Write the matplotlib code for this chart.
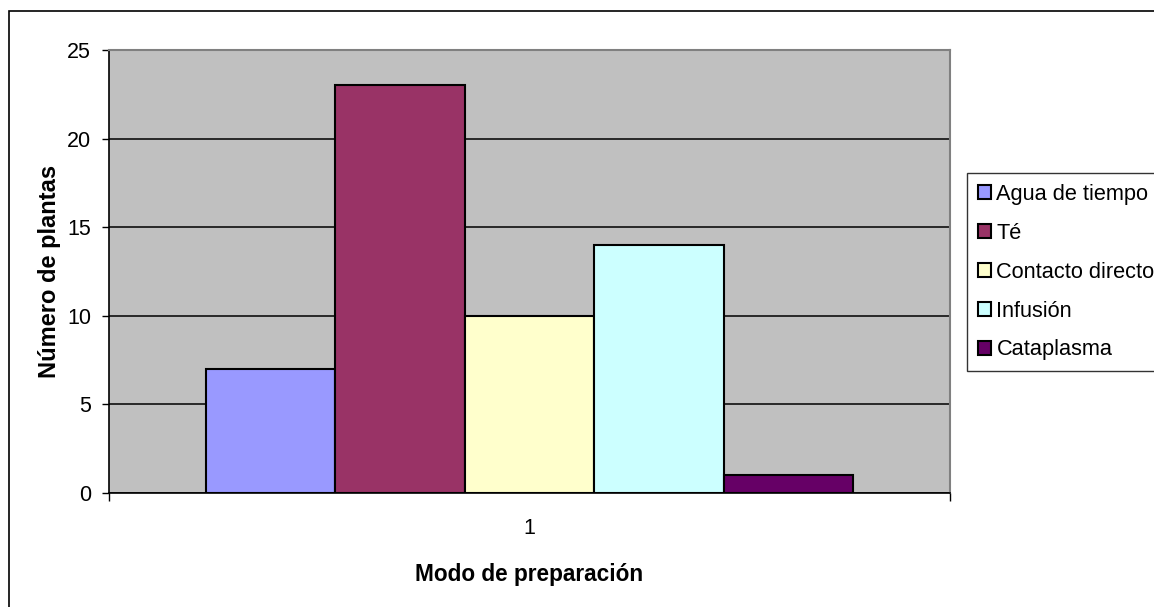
import matplotlib.pyplot as plt
from matplotlib.patches import Rectangle
import numpy as np

plt.rcParams['font.family'] = ['Liberation Sans', 'DejaVu Sans']

# data
modos = ['Agua de tiempo', 'Té', 'Contacto directo', 'Infusión', 'Cataplasma']
num_plantas = [7, 23, 10, 14, 1]
colores = ['#9999FF', '#993366', '#FFFFCC', '#CCFFFF', '#660066']
categoria = ['1']

W, H = 1154, 607
fig = plt.figure(figsize=(W / 100, H / 100), dpi=100)
ax = fig.add_axes([109 / W, (H - 493) / H, (950 - 109) / W, (493 - 50) / H])
ax.set_facecolor('#C0C0C0')

# excel style clustered bars, gap width 150%
n = len(modos)
w = 1.0 / (n + 1.5)
for i, (m, v, c) in enumerate(zip(modos, num_plantas, colores)):
    x = 1 + (i - (n - 1) / 2) * w
    ax.bar(x, v, width=w, color=c, edgecolor='black', linewidth=1.5,
           label=m, zorder=3)

ax.set_xlim(0.5, 1.5)
ax.set_ylim(0, 25)
ax.set_yticks(np.arange(0, 26, 5))
ax.yaxis.grid(True, color='black', linewidth=1.1, zorder=1)
ax.set_axisbelow(True)

ax.set_xticks([1])
ax.set_xticklabels(categoria)
ax.set_xticks([0.5, 1.5], minor=True)
ax.tick_params(axis='x', which='major', length=0, pad=18, labelsize=15.5)
ax.tick_params(axis='x', which='minor', length=6, width=1, direction='out')
ax.tick_params(axis='y', length=5, width=1, direction='out', pad=8, labelsize=15.5)

for s in ['top', 'right']:
    ax.spines[s].set_color('#808080')
    ax.spines[s].set_linewidth(1.5)
for s in ['left', 'bottom']:
    ax.spines[s].set_color('black')
    ax.spines[s].set_linewidth(1.2)

ax.set_ylabel('Número de plantas', fontsize=17, fontweight='bold', labelpad=4)
ax.set_xlabel('Modo de preparación', fontsize=16.3, fontweight='bold', labelpad=17)

# outer chart border (only left/top inside the image)
fig.patches.append(Rectangle((9 / W, -0.1), 1.2, (H - 11) / H + 0.1,
                             transform=fig.transFigure, fill=False,
                             edgecolor='black', linewidth=1.2))

leg = fig.legend(loc='upper left', bbox_to_anchor=(967 / W, 1 - 173 / H),
                 fontsize=15.7, frameon=True, fancybox=False, shadow=False,
                 handlelength=0.6, handleheight=0.6, handletextpad=0.25,
                 labelspacing=0.82, borderpad=0.5, borderaxespad=0)
leg.get_frame().set_edgecolor('black')
leg.get_frame().set_linewidth(1.0)

fig.savefig('out.png', dpi=100)
